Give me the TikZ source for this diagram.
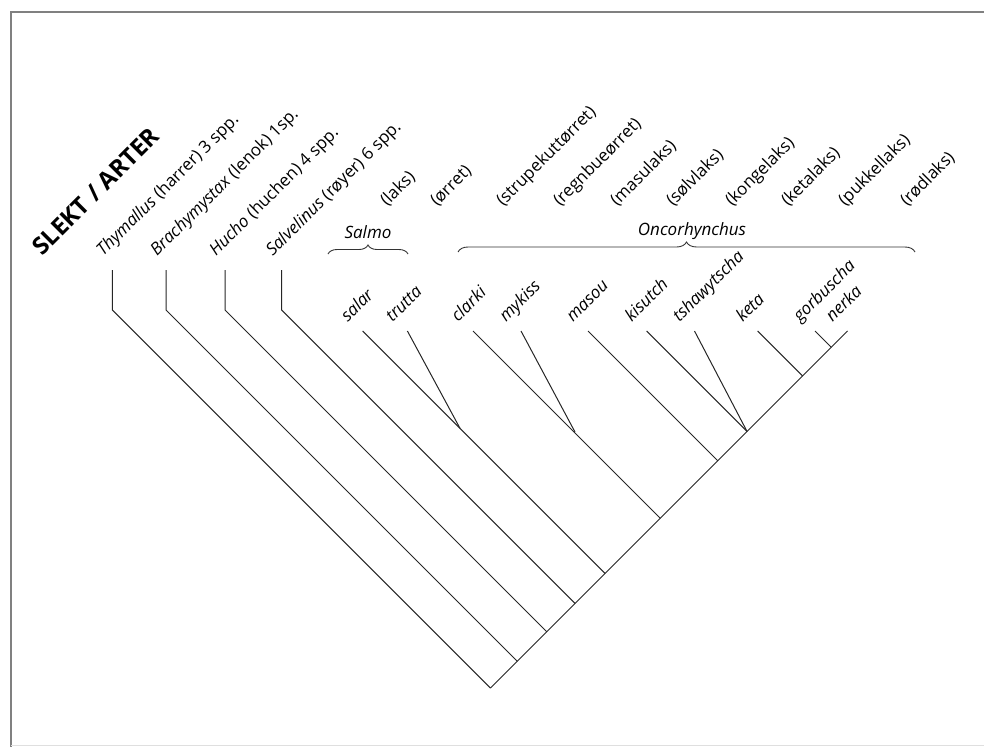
\documentclass[tikz,border=0pt]{standalone}
\usepackage{fontspec}
\setmainfont{Open Sans}
\usetikzlibrary{calc}
\usetikzlibrary{decorations.pathreplacing}

\tikzset{
  branch/.style={line width=1pt, color=black!85},
  tiplabel/.style={rotate=45, anchor=base west, inner sep=0pt, font=\fontsize{17}{20}\selectfont},
  genuslabel/.style={anchor=base, inner sep=0pt, font=\fontsize{17}{20}\selectfont\itshape},
  bracket/.style={decorate, decoration={brace, amplitude=9pt}, line width=0.9pt, color=black!80}
}

\begin{document}
\begin{tikzpicture}[x=1pt, y=-1pt]
      \useasboundingbox (0,0) rectangle (984,747);
      \draw[gray, line width=1.8pt] (984,12) -- (11,12) -- (11,747);
      \draw[gray!25, line width=1pt] (11,745) -- (984,745);
      \node[tiplabel, font=\fontsize{24}{28}\selectfont\bfseries] (title) at (42,257) {SLEKT / ARTER};
      \foreach \n/\x/\t in {thymallus/112.3/{\textit{Thymallus} (harrer) 3 spp.},
                            brachymystax/166/{\textit{Brachymystax} (lenok) 1sp.},
                            hucho/225/{\textit{Hucho} (huchen) 4 spp.},
                            salvelinus/281.7/{\textit{Salvelinus} (røyer) 6 spp.}}
        {
          \coordinate (\n) at (\x,270);
          \coordinate (\n-b) at (\x,310);
          \coordinate (j\n) at ({(1178.5+\x-310)/2},{(1178.5-\x+310)/2});
          \node[tiplabel] (l\n) at ($(\n)+(-9,-13)$) {\t};
          \draw[branch] (\n) -- (\n-b) -- (j\n);
        }
      \foreach \n/\x in {salar/362.7, trutta/407.4, clarki/473, mykiss/521, masou/588,
                         kisutch/646.6, tshawytscha/694.5, keta/757.6, gorbuscha/815, nerka/847.5}
        {
          \coordinate (\n) at (\x,331);
          \coordinate (j\n) at ({(1178.5+\x-331)/2},{(1178.5-\x+331)/2});
          \node[tiplabel, font=\fontsize{17}{20}\selectfont\itshape] (l\n) at ($(\n)+(-15,-8)$) {\n};
        }
      \foreach \t/\x [count=\i] in {laks/387, ørret/437, strupekuttørret/503, regnbueørret/560, masulaks/617,
                                    sølvlaks/673, kongelaks/732, ketalaks/788, pukkellaks/845, rødlaks/907}
        \node[tiplabel] (v\i) at (\x,207) {(\t)};
      \coordinate (salmo-j) at (460,428.3);
      \coordinate (onco-j) at (575,432);
      \draw[branch] (jthymallus) -- (nerka);
      \draw[branch] (salar) -- (jsalar);
      \draw[branch] (trutta) -- (salmo-j);
      \draw[branch] (clarki) -- (jclarki);
      \draw[branch] (mykiss) -- (onco-j);
      \draw[branch] (masou) -- (jmasou);
      \draw[branch] (kisutch) -- (jkisutch);
      \draw[branch] (tshawytscha) -- (jkisutch);
      \draw[branch] (keta) -- (jketa);
      \draw[branch] (gorbuscha) -- (jgorbuscha);
      \coordinate (salmo-l) at (328,254);
      \coordinate (salmo-r) at (408,254);
      \coordinate (onco-l) at (458,252);
      \coordinate (onco-r) at (915,252);
      \draw[bracket] (salmo-l) -- (salmo-r);
      \draw[bracket, decoration={amplitude=10pt}] (onco-l) -- (onco-r);
      \node[genuslabel] (salmo) at (368,238) {Salmo};
      \node[genuslabel] (oncorhynchus) at (692,235) {Oncorhynchus};
    \end{tikzpicture}
\end{document}
